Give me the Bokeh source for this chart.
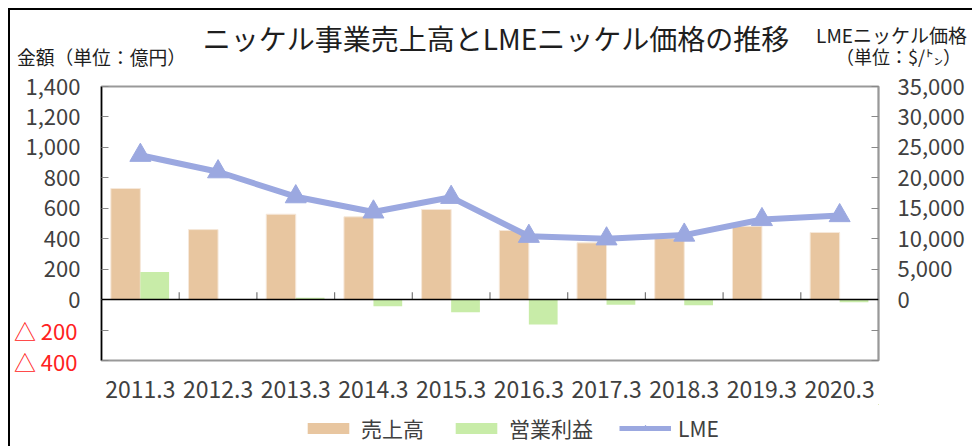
from bokeh.plotting import figure
from bokeh.layouts import column
from bokeh.models import (Range1d, LinearAxis, FixedTicker, Legend, LegendItem, Div,
                          Span, ColumnDataSource, NumeralTickFormatter)
from bokeh.transform import dodge
from bokeh.embed import file_html
from bokeh.resources import INLINE

years = ["2011.3", "2012.3", "2013.3", "2014.3", "2015.3",
         "2016.3", "2017.3", "2018.3", "2019.3", "2020.3"]
sales = [730, 460, 561, 544, 592, 454, 373, 401, 482, 441]
profit = [182, 0, 13, -44, -83, -164, -33, -37, 0, -18]
lme = [23700, 21000, 16900, 14400, 16800, 10400, 9980, 10600, 13150, 13800]
left_ticks = [-400, -200, 0, 200, 400, 600, 800, 1000, 1200, 1400]
right_ticks = [-10000, -5000, 0, 5000, 10000, 15000, 20000, 25000, 30000, 35000]

title_text = "ニッケル事業売上高とLMEニッケル価格の推移"
left_title = "金額（単位：億円）"
right_title1 = "LMEニッケル価格"
right_title2 = "（単位：$/㌧）"

FONT = "Noto Sans CJK JP"
TXT = "#404040"
DARK = "#1E1E1E"
RED = "#FF2222"
C_SALES = "#E8C6A0"
C_PROFIT = "#C8ECA8"
C_LME = "#9BA8E0"

W = 962
H_HEAD = 60
H_MAIN = 334
H_LEG = 42

xs = list(range(1, len(years) + 1))
src = ColumnDataSource(dict(x=xs, sales=sales, profit=profit, lme=lme))


def bare(fig):
    fig.xgrid.visible = False
    fig.ygrid.visible = False
    fig.outline_line_color = None
    fig.background_fill_color = "white"
    fig.border_fill_color = "white"


# ---------------- header (titles) ----------------
span_css = "position:absolute;white-space:nowrap;line-height:1;"
head_html = (
    f'<div style="position:relative;width:{W}px;height:{H_HEAD}px;'
    f"font-family:'{FONT}';color:{DARK};\">"
    f'<span style="{span_css}left:486px;top:28px;transform:translate(-50%,-50%);'
    f'font-size:28px;">{title_text}</span>'
    f'<span style="{span_css}left:7px;top:47px;transform:translateY(-50%);'
    f'font-size:18.8px;">{left_title}</span>'
    f'<div style="position:absolute;right:5px;top:14px;white-space:nowrap;'
    f'text-align:right;line-height:21px;font-size:19px;">{right_title1}<br>'
    f'<span style="font-size:18px;margin-right:6px;">{right_title2}</span></div>'
    '</div>'
)
head = Div(text=head_html, width=W, height=H_HEAD, margin=0)

# ---------------- main chart ----------------
p = figure(width=W, height=H_MAIN, x_range=Range1d(0.5, len(years) + 0.5),
           y_range=Range1d(min(left_ticks), max(left_ticks)),
           output_backend="svg", toolbar_location=None,
           min_border_left=88, min_border_right=94, min_border_top=16, min_border_bottom=44)
bare(p)
p.extra_y_ranges = {"lme": Range1d(min(right_ticks), max(right_ticks))}
p.outline_line_color = "#999999"
p.outline_line_width = 2

ya = p.yaxis[0]
ya.ticker = FixedTicker(ticks=[t for t in left_ticks])
ya.formatter = NumeralTickFormatter(format="0,0")
ya.major_label_overrides = {t: "" for t in left_ticks if t < 0}
ya.axis_line_color = "black"
ya.axis_line_width = 1.5
ya.major_tick_in = 7
ya.major_tick_out = 0
ya.major_tick_line_color = "#888888"
ya.minor_tick_line_color = None
ya.major_label_standoff = 21
ya.major_label_text_font = FONT
ya.major_label_text_font_size = "22px"
ya.major_label_text_color = TXT

# red "△" labels for the negative ticks (outer left axis, pulled in)
neg_ticks = [t for t in left_ticks if t < 0]
na = LinearAxis(ticker=FixedTicker(ticks=neg_ticks))
na.major_label_overrides = {t: "△ " + str(-t) for t in neg_ticks}
na.axis_line_color = None
na.major_tick_line_color = None
na.minor_tick_line_color = None
na.major_tick_in = 0
na.major_tick_out = 0
na.major_label_standoff = -55
na.major_label_text_font = FONT
na.major_label_text_font_size = "22px"
na.major_label_text_color = RED
p.add_layout(na, "left")

ra = LinearAxis(y_range_name="lme", ticker=FixedTicker(ticks=right_ticks),
                formatter=NumeralTickFormatter(format="0,0"))
ra.major_label_overrides = {t: "" for t in right_ticks if t < 0}
ra.axis_line_color = "#999999"
ra.axis_line_width = 1.5
ra.major_tick_in = 7
ra.major_tick_out = 0
ra.major_tick_line_color = "#888888"
ra.minor_tick_line_color = None
ra.major_label_standoff = 19
ra.major_label_text_font = FONT
ra.major_label_text_font_size = "22px"
ra.major_label_text_color = TXT
p.add_layout(ra, "right")

xa = p.xaxis[0]
xa.ticker = FixedTicker(ticks=xs)
xa.major_label_overrides = {x: y for x, y in zip(xs, years)}
xa.axis_line_color = None
xa.major_tick_line_color = None
xa.minor_tick_line_color = None
xa.major_label_standoff = 14
xa.major_label_text_font = FONT
xa.major_label_text_font_size = "23px"
xa.major_label_text_color = TXT

p.vbar(x=dodge("x", -0.19, range=p.x_range), top="sales", bottom=0, width=0.38,
       source=src, fill_color=C_SALES, line_color="#F6E8DA", line_width=1)
p.vbar(x=dodge("x", 0.185, range=p.x_range), top="profit", bottom=0, width=0.37,
       source=src, fill_color=C_PROFIT, line_color=None)

p.add_layout(Span(location=0, dimension="width", line_color="black", line_width=1.5))
bounds = [x + 0.5 for x in xs]
p.segment(x0=bounds, y0=[0] * len(bounds), x1=bounds, y1=[48] * len(bounds),
          line_color="#777777", line_width=1.2)

p.line("x", "lme", source=src, y_range_name="lme", line_color=C_LME, line_width=6)
p.scatter("x", "lme", source=src, y_range_name="lme", marker="triangle",
          size=21, fill_color=C_LME, line_color=C_LME)

# ---------------- legend strip ----------------
lg = figure(width=W, height=H_LEG, x_range=Range1d(-1000, -999), y_range=Range1d(-1e6, -1e6 + 1),
            output_backend="svg", toolbar_location=None, x_axis_location=None,
            y_axis_location=None, min_border=0)
bare(lg)
l_sales = lg.vbar(x="x", top="sales", bottom=0, width=0.38, source=src,
                  fill_color=C_SALES, line_color=None)
l_profit = lg.vbar(x="x", top="profit", bottom=0, width=0.37, source=src,
                   fill_color=C_PROFIT, line_color=None)
l_line = lg.line("x", "lme", source=src, line_color=C_LME, line_width=5)
l_mark = lg.scatter("x", "lme", source=src, marker="triangle", size=14,
                    fill_color=C_LME, line_color=C_LME)
legend = Legend(items=[LegendItem(label="売上高", renderers=[l_sales]),
                       LegendItem(label="営業利益", renderers=[l_profit]),
                       LegendItem(label="LME", renderers=[l_line, l_mark])],
                orientation="horizontal", location=(201, 3), border_line_color=None,
                background_fill_alpha=0, label_text_font=FONT, label_text_font_size="21px",
                label_text_color=TXT, glyph_width=52, glyph_height=14, spacing=26,
                label_standoff=7, padding=2, margin=0)
lg.add_layout(legend, "center")

page = column(head, p, lg, spacing=0,
              styles={"margin-left": "8px", "margin-top": "8px",
                      "border-left": "2px solid black", "border-top": "2px solid black"})

open("out.html", "w").write(file_html(page, INLINE))
